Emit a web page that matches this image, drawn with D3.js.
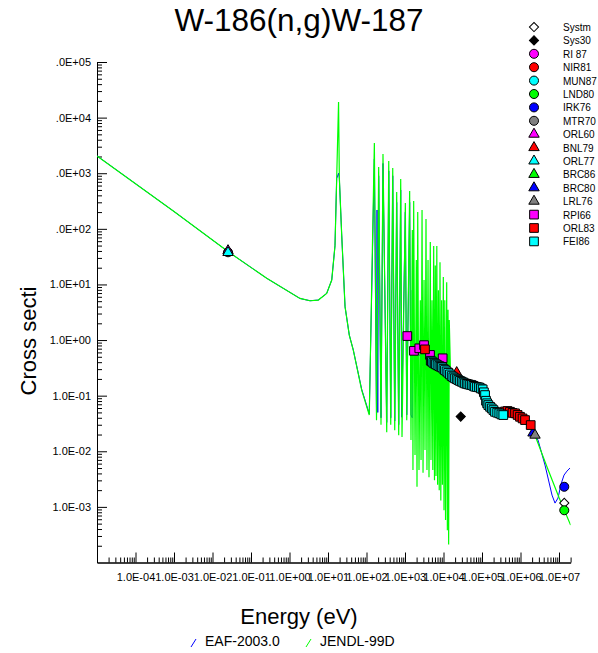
<!DOCTYPE html>
<html>
<head>
<meta charset="utf-8">
<script src="https://cdn.jsdelivr.net/npm/d3@7"></script>
<style>
body { margin: 0; background: #fff; }
svg { font-family: Arial, "Liberation Sans", sans-serif; }
</style>
</head>
<body>
<script>
// ---- chart values (energy in eV, cross section in b) ----
const xTickValues = [1e-4, 1e-3, 1e-2, 1e-1, 1e0, 1e1, 1e2, 1e3, 1e4, 1e5, 1e6, 1e7];
const xTickLabels = ["1.0E-04", "1.0E-03", "1.0E-02", "1.0E-01", "1.0E+00", "1.0E+01",
                     "1.0E+02", "1.0E+03", "1.0E+04", "1.0E+05", "1.0E+06", "1.0E+07"];
const yTickValues = [1e5, 1e4, 1e3, 1e2, 1e1, 1e0, 1e-1, 1e-2, 1e-3];
const yTickLabels = [".0E+05", ".0E+04", ".0E+03", ".0E+02", "1.0E+01", "1.0E+00",
                     "1.0E-01", "1.0E-02", "1.0E-03"];

const curveNames = ["EAF-2003.0", "JENDL-99D"];

const eafCurve = [
  [1e-5, 2050], [1e-3, 205], [0.0253, 39], [0.256, 12.9], [1.87, 5.6], [3.4, 5.09],
  [5.6, 5.24], [9.25, 6.9], [12.5, 12], [15.2, 50], [16.8, 800], [18.8, 1000],
  [19.7, 820], [22.7, 77], [27.7, 4.0], [35.7, 1.23], [45.4, 0.66], [75, 0.13],
  [118, 0.047], [160, 1800], [182, 0.045], [188, 218], [196, 0.05], [207, 900],
  [238, 0.04], [268, 1500], [335, 0.033], [378, 1100], [426, 0.04], [480, 900],
  [541, 0.035], [608, 300], [686, 0.03], [773, 500], [818, 0.041], [1020, 200],
  [1110, 0.045], [1320, 300], [1430, 0.045], [1545, 0.04], [1550, 7.9], [1560, 0.6],
  [3000, 0.5], [6000, 0.38], [10000, 0.3], [15200, 0.26], [20000, 0.21], [30000, 0.178],
  [50000, 0.157], [80000, 0.142], [100000, 0.132], [120000, 0.105], [150000, 0.068],
  [200000, 0.054], [300000, 0.047], [500000, 0.05], [700000, 0.047], [1e6, 0.041],
  [1.5e6, 0.033], [2.4e6, 0.019], [2.85e6, 0.0159], [4.33e6, 0.00565], [6.58e6, 0.00163],
  [7.87e6, 0.00117], [9.42e6, 0.00144], [1.13e7, 0.00257], [1.35e7, 0.00373],
  [1.61e7, 0.0044], [1.93e7, 0.005]
];

const jendlCurve = [
  [1e-5, 2050], [1e-3, 205], [0.0253, 39], [0.256, 12.9], [1.87, 5.6], [3.4, 5.09],
  [5.6, 5.24], [9.25, 6.9], [12.5, 12], [15.2, 50], [16.8, 800], [18.8, 19000],
  [19.7, 820], [22.7, 77], [27.7, 4.0], [35.7, 1.23], [45.4, 0.66], [75, 0.126],
  [118, 0.045], [160, 3490], [182, 0.036], [207, 1290], [238, 0.030], [268, 2210],
  [335, 0.022], [378, 1660], [426, 0.030], [480, 1240], [541, 0.024], [608, 459],
  [686, 0.0195], [773, 787], [836, 0.018], [1020, 291], [1110, 0.036], [1320, 479],
  [1430, 0.016], [1550, 95], [1610, 0.0046], [1680, 316], [1820, 0.0086], [1970, 27.5],
  [2050, 0.0023], [2140, 200], [2310, 0.0046], [2500, 5.2], [2610, 0.007], [2770, 218],
  [2940, 0.0041], [3120, 12], [3310, 0.0105], [3510, 150], [3720, 0.0046], [3960, 27.5],
  [4200, 0.0034], [4540, 58], [4730, 0.007], [5020, 5.2], [5270, 0.0046], [5560, 49],
  [5830, 0.003], [6120, 22], [6380, 0.0036], [6700, 49], [7030, 0.0025], [7380, 7.9],
  [7740, 0.002], [8110, 25], [8510, 0.0013], [8930, 5.2], [9370, 0.0025], [9890, 13.6],
  [10300, 0.00087], [10800, 5.2], [11300, 0.00058], [12100, 11], [12600, 0.00038],
  [13100, 3.5], [13600, 0.00021], [14100, 2.3], [15200, 0.265], [20000, 0.21],
  [30000, 0.178], [50000, 0.157], [80000, 0.142], [100000, 0.132], [120000, 0.105],
  [150000, 0.068], [200000, 0.054], [300000, 0.047], [500000, 0.05], [700000, 0.047],
  [1e6, 0.041], [1.5e6, 0.033], [2.4e6, 0.019], [5e6, 0.005], [1e7, 0.00147], [2e7, 0.00047]
];

const expNames = ["Systm", "Sys30", "RI 87", "NIR81", "MUN87", "LND80", "IRK76", "MTR70",
                  "ORL60", "BNL79", "ORL77", "BRC86", "BRC80", "LRL76", "RPI66", "ORL83", "FEI86"];

const systmPts = [[1.37e7, 0.00118]];
const sys30Pts = [[2.8e4, 0.042]];
const ri87Pts = [];
const nir81Pts = [];
const mun87Pts = [];
const lnd80Pts = [[1.37e7, 0.00087]];
const irk76Pts = [[1.37e7, 0.0023]];
const mtr70Pts = [[0.0253, 37.9]];
const orl60Pts = [[0.0253, 40.5]];
const bnl79Pts = [[2.2e4, 0.26]];
const orl77Pts = [[0.0253, 37.5]];
const brc86Pts = [];
const brc80Pts = [[2.11e6, 0.0213]];
const lrl76Pts = [[2.38e6, 0.0195]];
const rpi66Pts = [[1150, 1.18], [1710, 0.64], [2350, 0.71], [3120, 0.81], [4460, 0.54], [9500, 0.47]];
const orl83Pts = [[3300, 0.68], [3.95e5, 0.052], [4.6e5, 0.053], [5.33e5, 0.0513], [6.2e5, 0.049],
                  [7.2e5, 0.0481], [8.4e5, 0.045], [9.7e5, 0.0417], [1.13e6, 0.039], [1.31e6, 0.0364],
                  [1.84e6, 0.0296]];
const fei86Pts = [
  [4660, 0.425], [5000, 0.41], [5440, 0.391], [5900, 0.378], [6380, 0.366], [7000, 0.352],
  [7780, 0.340], [8400, 0.331], [9140, 0.323], [10000, 0.305], [10900, 0.289], [12000, 0.273],
  [13300, 0.258], [14700, 0.241], [16300, 0.225], [18000, 0.214], [19900, 0.205], [22000, 0.198],
  [24200, 0.191], [26800, 0.184], [29700, 0.178], [32800, 0.172], [36200, 0.166], [40000, 0.163],
  [44000, 0.160], [49000, 0.157], [54000, 0.155], [60000, 0.150], [65700, 0.145], [74000, 0.143],
  [83500, 0.141], [93000, 0.135], [104000, 0.130], [112000, 0.115], [120000, 0.1025],
  [127000, 0.081], [136000, 0.073], [146000, 0.0677], [162000, 0.063], [179000, 0.059],
  [198000, 0.055], [218000, 0.0513], [248000, 0.0495], [281000, 0.0481], [318000, 0.046],
  [357000, 0.0448]
];

document.addEventListener("DOMContentLoaded", function() {

    const w = 598, h = 653
    const left = 97, right = 570.6, top = 62, bottom = 562.5

    const xScale = d3.scaleLog().domain([1e-5, 2e7]).range([left, right])
    const yScale = d3.scaleLog().domain([1e-4, 1e5]).range([bottom, top])

    const svg = d3.select("body").append("svg")
        .attr("width", w)
        .attr("height", h)

    svg.append("clipPath").attr("id", "plot-clip")
        .append("rect")
        .attr("x", left).attr("y", top)
        .attr("width", right - left).attr("height", bottom - top)

    // minor tick positions 2..9 per decade
    const minorX = []
    for (let k = -5; k <= 7; k++) for (let m = 2; m <= 9; m++) {
        const v = m * Math.pow(10, k)
        if (v <= 2e7) minorX.push(v)
    }
    const minorY = []
    for (let k = -4; k <= 4; k++) for (let m = 2; m <= 9; m++) minorY.push(m * Math.pow(10, k))

    const tickFont = "Arial, 'Liberation Sans', sans-serif"

    // x axis
    svg.append("g")
        .attr("transform", "translate(0," + bottom + ")")
        .call(d3.axisBottom(xScale).tickValues(minorX).tickSize(-5).tickSizeOuter(0).tickFormat(""))
    svg.append("g")
        .attr("id", "x-axis")
        .attr("transform", "translate(0," + bottom + ")")
        .call(d3.axisBottom(xScale).tickValues(xTickValues).tickSize(-10).tickSizeOuter(0)
            .tickPadding(11).tickFormat((d, i) => xTickLabels[i]))
        .call(g => g.selectAll("text").attr("font-size", 11).attr("fill", "#000").attr("font-family", tickFont))

    // y axis
    svg.append("g")
        .attr("transform", "translate(" + left + ",0)")
        .call(d3.axisLeft(yScale).tickValues(minorY).tickSize(-5).tickSizeOuter(0).tickFormat(""))
    svg.append("g")
        .attr("id", "y-axis")
        .attr("transform", "translate(" + left + ",0)")
        .call(d3.axisLeft(yScale).tickValues(yTickValues).tickSize(-10).tickSizeOuter(0)
            .tickPadding(6).tickFormat((d, i) => yTickLabels[i]))
        .call(g => g.selectAll("text").attr("font-size", 11).attr("fill", "#000").attr("font-family", tickFont))

    svg.selectAll(".domain, .tick line").attr("stroke", "#000")

    // curves
    const line = d3.line().x(d => xScale(d[0])).y(d => yScale(d[1]))
    const plot = svg.append("g").attr("clip-path", "url(#plot-clip)")
    plot.append("path").datum(eafCurve)
        .attr("d", line).attr("fill", "none").attr("stroke", "#0000ff").attr("stroke-width", 1)
    plot.append("path").datum(jendlCurve)
        .attr("d", line).attr("fill", "none").attr("stroke", "#00ff00").attr("stroke-width", 1.2)

    // marker styles
    const styles = {
        "Systm": ["diamond", "#ffffff"], "Sys30": ["diamond", "#000000"],
        "RI 87": ["circle", "#ff00ff"], "NIR81": ["circle", "#ff0000"], "MUN87": ["circle", "#00ffff"],
        "LND80": ["circle", "#00ff00"], "IRK76": ["circle", "#0000ff"], "MTR70": ["circle", "#808080"],
        "ORL60": ["triangle", "#ff00ff"], "BNL79": ["triangle", "#ff0000"], "ORL77": ["triangle", "#00ffff"],
        "BRC86": ["triangle", "#00ff00"], "BRC80": ["triangle", "#0000ff"], "LRL76": ["triangle", "#808080"],
        "RPI66": ["square", "#ff00ff"], "ORL83": ["square", "#ff0000"], "FEI86": ["square", "#00ffff"]
    }
    const expData = [systmPts, sys30Pts, ri87Pts, nir81Pts, mun87Pts, lnd80Pts, irk76Pts, mtr70Pts,
                     orl60Pts, bnl79Pts, orl77Pts, brc86Pts, brc80Pts, lrl76Pts, rpi66Pts, orl83Pts, fei86Pts]

    const symbolPath = shape => {
        if (shape == "diamond") return d3.symbol(d3.symbolSquare, 42)()
        if (shape == "circle") return d3.symbol(d3.symbolCircle, 64)()
        if (shape == "triangle") return d3.symbol(d3.symbolTriangle, 47)()
        return d3.symbol(d3.symbolSquare, 76)()
    }
    const rot = shape => shape == "diamond" ? " rotate(45)" : ""

    expNames.forEach((name, i) => {
        const [shape, color] = styles[name]
        svg.append("g").selectAll("path")
            .data(expData[i])
            .enter()
            .append("path")
            .attr("d", symbolPath(shape))
            .attr("transform", d => "translate(" + xScale(d[0]) + "," + yScale(d[1]) + ")" + rot(shape))
            .attr("fill", color)
            .attr("stroke", "#000")
            .attr("stroke-width", 1)
    })

    // right legend
    const legend = svg.append("g")
    expNames.forEach((name, i) => {
        const [shape, color] = styles[name]
        const ly = 27 + i * 13.4
        legend.append("path")
            .attr("d", symbolPath(shape))
            .attr("transform", "translate(534," + ly + ")" + rot(shape))
            .attr("fill", color).attr("stroke", "#000").attr("stroke-width", 1)
        legend.append("text")
            .attr("x", 563).attr("y", ly + 4)
            .attr("font-size", 10)
            .text(name)
    })

    // titles
    svg.append("text")
        .attr("x", 299).attr("y", 31)
        .attr("text-anchor", "middle")
        .attr("font-size", 31.5)
        .text("W-186(n,g)W-187")
    svg.append("text")
        .attr("x", 299).attr("y", 624)
        .attr("text-anchor", "middle")
        .attr("font-size", 22)
        .text("Energy (eV)")
    svg.append("text")
        .attr("transform", "translate(36,341) rotate(-90)")
        .attr("text-anchor", "middle")
        .attr("font-size", 22)
        .text("Cross secti")

    // bottom legend
    const curveColors = ["#0000ff", "#00ff00"]
    const curveX = [191, 306]
    curveNames.forEach((name, i) => {
        svg.append("line")
            .attr("x1", curveX[i]).attr("y1", 647)
            .attr("x2", curveX[i] + 5).attr("y2", 639)
            .attr("stroke", curveColors[i]).attr("stroke-width", 1)
        svg.append("text")
            .attr("x", curveX[i] + 14).attr("y", 646)
            .attr("font-size", 14)
            .text(name)
    })
})
</script>
</body>
</html>
